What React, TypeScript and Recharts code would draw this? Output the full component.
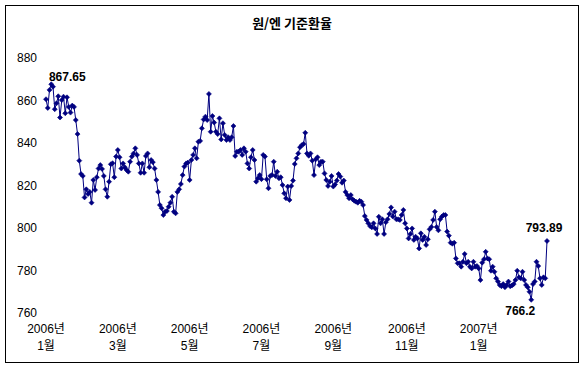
import { LineChart, Line, XAxis, YAxis } from 'recharts';

const TITLE = '원/엔 기준환율';

// 원/엔 기준환율 (100엔당 원), 일별 — 그림에서 읽은 값
const rateJanFeb = [
  860.6, 856.5, 865, 867.65, 866.5, 855.9, 858.7, 862, 852, 860.2, 861.8, 854, 861.5, 857, 854.3,
  857.6, 857, 850.8, 844.2, 831.7, 825.4, 824.5, 814.4, 818.2, 816, 817, 811.9, 822.6, 817.9, 823.9,
  828, 829.6, 827.8, 824.5, 818.2, 814.7, 821.8, 830, 830.5, 823.9, 833.6, 836.7, 833.3, 828,
];
const rateMarApr = [
  830.4, 828.6, 827.3, 826.5, 831.2, 833.6, 835.1, 837.5, 834.4, 830.4, 826, 830.4, 826, 833.9, 835.1,
  828.6, 832, 831, 828, 822.6, 817, 810.8, 809.3, 806.1, 807.7, 808, 810, 811.9, 814.7, 807.7,
  806.9, 817, 818.2, 820.7, 824.9, 828.9, 830.4, 830.8, 822.6, 832, 834.4, 837.5, 832.8, 840.6, 841,
];
const rateMayJun = [
  846.9, 851.1, 852.4, 850.8, 863.1, 845.3, 852.7, 849.6, 845.3, 844.2, 851.6, 841.7, 849.3, 843.8, 841.4,
  842.7, 841.4, 842.7, 848, 833.9, 835.9, 835.9, 836.7, 834.4, 837.5, 835.9, 830.4, 828, 833.3, 836.7,
  832, 821.8, 823.4, 824.9, 823, 834.4, 833.6, 822.9, 818.7, 824.5, 824.9, 831.2, 824.5, 826.5, 823.4,
  823.9, 820.2, 816.3, 814, 819.5, 813.2,
];
const rateJulAug = [
  819.8, 822.3, 830.1, 832.8, 835.1, 838, 839, 839.5, 844.8, 835.1, 834, 835.1, 831.7, 824.9, 832.3,
  833.3, 829.6, 831.2, 831.2, 825.7, 822.6, 819.8, 821.8, 824.5, 819.5, 820.5, 822.3, 825.4, 824.2, 821.3,
  822.3, 817, 815.5, 814, 815.5, 813.5, 812.8, 812.4, 811.9, 812.8, 812.4, 810.8, 805.6, 803.8, 802.2,
  800.9, 800.3, 802.2,
];
const rateSepNov = [
  799.8, 797.2, 805.3, 802.2, 804.1, 797.2, 802.7, 804.1, 806.6, 809.7, 805.4, 807.7, 804.1, 804.1, 803.8,
  806.1, 808.5, 802.2, 799.8, 795.1, 797.2, 799.8, 794.4, 795.9, 795.1, 790.4, 797.5, 794.4, 795.9, 792,
  794.7, 799.4, 800.5, 803.8, 807.7, 800.5, 798.9, 804.1, 805.4, 806.1, 806.1, 798.3, 796.4, 793.1, 792.6,
  793.1, 785.7, 783.4,
];
const rateDecFeb = [
  783.4, 781.8, 784.1, 787.8, 783.4, 784.1, 781.8, 781, 784.1, 781.8, 782.1, 781, 775.5, 783.7, 785.3,
  788.8, 785.7, 785.3, 779.9, 781.8, 779.4, 776.3, 774.8, 773.2, 772.6, 773.6, 772.1, 773.2, 774.8, 772.6,
  772.9, 773.6, 775.5, 779.9, 776.8, 776.3, 779.4, 775.5, 773.2, 772.1, 770, 766.2, 773.6, 774.8, 784.1,
  782.1, 776.3, 773.2, 776.8, 776.3, 793.89,
];

const rates = [...rateJanFeb, ...rateMarApr, ...rateMayJun, ...rateJulAug, ...rateSepNov, ...rateDecFeb];

const yTicks = [760, 780, 800, 820, 840, 860, 880];
const xTickIndex = [0, 41, 82, 123, 164, 206, 247];
const xTickYear = ['2006년', '2006년', '2006년', '2006년', '2006년', '2006년', '2007년'];
const xTickMonth = ['1월', '3월', '5월', '7월', '9월', '11월', '1월'];

const data = rates.map((v, i) => ({ i, v }));

const maxIdx = rates.indexOf(Math.max(...rates));
const minIdx = rates.indexOf(Math.min(...rates));
const lastIdx = rates.length - 1;

const FONT = '"Liberation Sans", "Noto Sans CJK KR", sans-serif';

function XTick({ x, payload }: any) {
  const k = xTickIndex.indexOf(payload.value);
  return (
    <text x={x} textAnchor="middle" fontSize={12} fontFamily={FONT} fill="#000">
      <tspan x={x} y={333}>{xTickYear[k]}</tspan>
      <tspan x={x} y={350}>{xTickMonth[k]}</tspan>
    </text>
  );
}

function YTick({ y, payload }: any) {
  return (
    <text x={37} y={y + 4} textAnchor="end" fontSize={12} fontFamily={FONT} fill="#000">
      {payload.value}
    </text>
  );
}

function renderDot({ cx, cy, index }: any) {
  const r = 2.5;
  return (
    <polygon
      key={index}
      points={`${cx},${cy - r} ${cx + r},${cy} ${cx},${cy + r} ${cx - r},${cy}`}
      fill="#000080"
      stroke="#000080"
      strokeWidth={0.6}
    />
  );
}

function renderLabel({ x, y, index }: any) {
  let dx = 0;
  let dy = 0;
  if (index === maxIdx) { dx = 16; dy = -3; }
  else if (index === minIdx) { dx = -11; dy = 15; }
  else if (index === lastIdx) { dx = -3; dy = -9; }
  else return <g key={index} />;
  return (
    <text key={index} x={x + dx} y={y + dy} textAnchor="middle" fontSize={12} fontWeight="bold" fontFamily={FONT} fill="#000">
      {rates[index]}
    </text>
  );
}

export default function App() {
  return (
    <div style={{ position: 'relative', width: 584, height: 368, background: '#fff', fontFamily: FONT }}>
      <style>{'body{margin:0}'}</style>
      <div style={{ position: 'absolute', left: 5, top: 5, width: 572, height: 356, border: '1px solid #000' }} />
      <div style={{ position: 'absolute', left: 0, top: 13, width: 584, textAlign: 'center', fontSize: 13, fontWeight: 'bold', fontFamily: '"Noto Sans CJK KR", sans-serif' }}>
        {TITLE}
      </div>
      <div style={{ position: 'absolute', left: 0, top: 0 }}>
        <LineChart width={584} height={368} data={data} margin={{ top: 58, right: 37, bottom: 15, left: 0 }}>
          <XAxis
            dataKey="i"
            type="number"
            domain={[0, rates.length - 1]}
            ticks={xTickIndex}
            interval={0}
            tickLine={false}
            axisLine={false}
            height={40}
            tick={<XTick />}
          />
          <YAxis
            domain={[760, 880]}
            ticks={yTicks}
            interval={0}
            tickLine={false}
            axisLine={false}
            width={46}
            tick={<YTick />}
          />
          <Line
            type="linear"
            dataKey="v"
            stroke="#000080"
            strokeWidth={1}
            dot={renderDot}
            activeDot={false}
            label={renderLabel}
            isAnimationActive={false}
          />
        </LineChart>
      </div>
    </div>
  );
}
